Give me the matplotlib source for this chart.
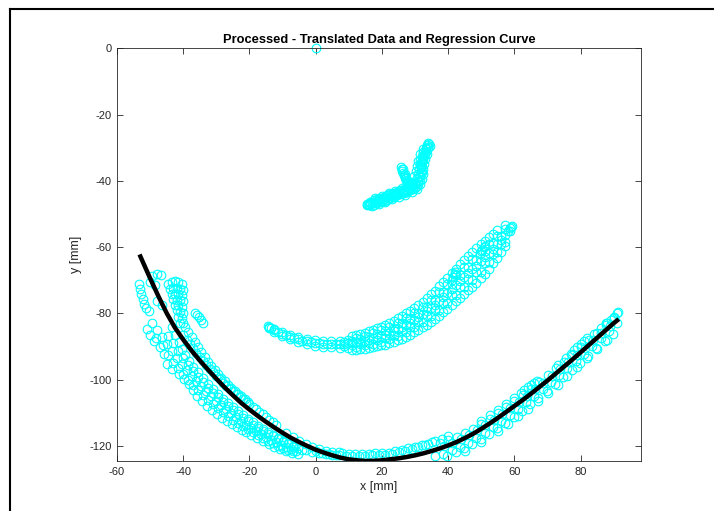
import matplotlib
matplotlib.use("Agg")
import matplotlib.pyplot as plt
from matplotlib.lines import Line2D

plt.rcParams['font.family'] = ['Liberation Sans', 'DejaVu Sans']
plt.rcParams['axes.unicode_minus'] = False

####### DATA #######
# single point at the origin
origin_x = [0.0]
origin_y = [0.0]

# upper small cluster
upper_x = [15.4, 16.5, 17.5, 18.5, 19.5, 20.5, 21.5, 22.5, 23.5, 24.5, 25.5, 26.5, 27.5, 28.5, 29.5,
           30.2, 30.6, 31.0, 31.2, 31.4, 31.6, 32.0, 32.5, 33.2, 34.1,
           17.0, 19.0, 21.0, 23.0, 25.0, 27.0, 29.0, 30.5, 31.5, 32.0, 32.3, 32.5, 32.6, 33.0, 33.5,
           18.0, 20.0, 22.0, 24.0, 26.0, 28.0, 29.5, 29.8, 30.2, 30.5, 30.8, 31.5, 32.5, 33.5,
           25.7, 26.0, 26.5, 27.0, 27.6, 28.3,
           16.0, 17.0, 18.0, 19.0, 20.0, 21.0, 22.0, 23.0, 24.0, 25.0, 26.0, 27.0, 28.0, 29.0, 30.0,
           30.0, 31.0, 31.2, 31.8, 31.9, 32.1, 32.3, 33.0, 33.8, 34.5, 33.8, 26.2, 26.8, 27.3, 28.0,
           17.5, 18.5, 19.5, 20.5, 21.5, 22.5, 23.5, 24.5, 25.5, 26.5, 27.5, 28.5, 29.5, 30.5, 31.0,
           30.8, 31.6, 31.5, 32.0, 31.7, 32.2, 31.9, 32.4, 32.6, 33.2, 33.4, 34.0,
           29.0, 28.5, 27.5, 26.5, 25.5, 24.5, 23.5, 22.5, 21.5, 20.5, 19.5, 18.5, 17.5, 16.5,
           15.6, 15.9, 16.3, 25.9, 26.3, 26.8, 27.3, 27.9, 28.8]
upper_y = [-47.1, -46.8, -46.4, -46.0, -45.7, -45.4, -45.0, -44.6, -44.2, -43.8, -43.4, -43.0, -42.6, -42.2, -41.8,
           -40.5, -39.2, -37.9, -36.5, -35.2, -33.8, -32.5, -31.2, -30.0, -28.8,
           -47.6, -47.0, -46.3, -45.6, -45.0, -44.3, -43.5, -42.5, -41.0, -39.5, -38.0, -36.5, -35.0, -33.5, -32.0,
           -45.2, -44.6, -43.8, -43.0, -42.2, -41.3, -40.2, -38.5, -37.0, -35.5, -34.0, -32.0, -30.5, -29.3,
           -35.9, -37.0, -38.2, -39.2, -40.2, -41.0,
           -47.4, -46.3, -46.8, -45.5, -46.0, -44.8, -45.3, -44.0, -44.5, -43.2, -43.8, -42.4, -43.0, -41.6, -42.0,
           -41.0, -40.0, -38.6, -37.2, -35.8, -34.4, -33.0, -31.5, -30.2, -29.5, -28.5, -36.5, -38.0, -39.7, -40.5,
           -47.2, -46.7, -46.4, -46.0, -45.7, -45.2, -44.9, -44.4, -44.1, -43.6, -43.3, -42.8, -42.4, -41.5, -41.0,
           -40.0, -39.8, -38.5, -37.3, -36.0, -35.6, -34.3, -33.8, -32.3, -31.3, -30.5, -29.8,
           -40.8, -41.6, -41.8, -42.5, -42.8, -43.3, -43.6, -44.1, -44.4, -44.9, -45.2, -45.6, -45.9, -46.3,
           -47.3, -46.9, -47.2, -36.4, -37.6, -38.6, -39.0, -40.0, -40.6]

# middle arc
middle_x = [-14, -11.5, -9, -6.5, -4, -1.5, 1, 3.5, 6, 8.5, 11, 13.5, 16, 18.5, 21, 23.5, 26, 28.5, 31, 33.5,
            36, 38.5, 41, 43.5, 46, 48.5, 51, 53.5, 56, 58.5,
            -12.75, -10.25, -7.75, -5.25, -2.75, -0.25, 2.25, 4.75, 7.25, 9.75, 12.25, 14.75, 17.25, 19.75,
            22.25, 24.75, 27.25, 29.75, 32.25, 34.75, 37.25, 39.75, 42.25, 44.75, 47.25, 49.75, 52.25, 54.75, 57.25,
            -12.75, -10.25, -7.75, -5.25, -2.75, -0.25, 2.25, 4.75, 7.25, 9.75, 12.25, 14.75, 17.25, 19.75,
            22.25, 24.75, 27.25, 29.75, 32.25, 34.75, 37.25, 39.75, 42.25, 44.75, 47.25, 49.75, 52.25, 54.75, 57.25,
            -12.75, -10.25, -7.75, -5.25, -2.75, -0.25, 2.25, 4.75, 7.25, 9.75, 12.25, 14.75, 17.25, 19.75,
            22.25, 24.75, 27.25, 29.75, 32.25, 34.75, 37.25, 39.75, 42.25, 44.75, 47.25, 49.75, 52.25, 54.75, 57.25,
            11, 13.5, 16, 18.5, 21, 23.5, 26, 28.5, 31, 33.5, 36, 38.5, 41, 43.5, 46, 48.5, 51, 53.5,
            11, 13.5, 16, 18.5, 21, 23.5, 26, 28.5, 31, 33.5, 36, 38.5, 41, 43.5, 46, 48.5, 51, 53.5, 56,
            12.25, 14.75, 17.25, 19.75, 22.25, 24.75, 27.25, 29.75, 32.25, 34.75, 37.25, 39.75, 42.25, 44.75,
            47.25, 49.75, 52.25, 54.75, 57.25,
            12.25, 14.75, 17.25, 19.75, 22.25, 24.75, 27.25, 29.75, 32.25, 34.75, 37.25, 39.75, 42.25, 44.75,
            47.25, 49.75, 52.25, 54.75, 57.25,
            8.5, 11, 13.5, 16, 18.5, 21, 23.5, 26, 28.5, 31, 33.5, 36, 38.5, 41, 43.5, 46, 48.5, 51, 53.5, 56,
            8.5, 11, 13.5, 16, 18.5, 21, 23.5, 26, 28.5, 31, 33.5, 36, 38.5, 41, 43.5, 46, 48.5, 51, 53.5, 56,
            -14.5, -14.0, -13.5, 41.0, 41.5, 42.0, 42.1, 49.5, 50.2, 50.8, 51.2, 58.0, 58.5, 59.0, 59.2]
middle_y = [-84.5, -85.7, -86.6, -87.5, -88.2, -88.7, -89.0, -89.2, -89.3, -89.2, -88.9, -88.5, -87.9, -87.2,
            -86.4, -85.4, -84.2, -82.8, -81.2, -79.4, -77.4, -75.1, -72.7, -70.2, -67.8, -65.6, -63.0, -60.4,
            -57.8, -55.0,
            -84.6, -85.6, -86.4, -87.2, -87.7, -88.0, -88.2, -88.3, -88.2, -87.9, -87.4, -86.8, -86.0, -85.1,
            -84.0, -82.8, -81.4, -79.8, -78.0, -75.9, -73.6, -71.1, -68.5, -65.9, -63.5, -61.2, -58.9, -56.6, -54.5,
            -85.6, -86.7, -87.7, -88.5, -89.2, -89.7, -90.0, -90.2, -90.3, -90.3, -90.0, -89.6, -89.1, -88.5,
            -87.8, -86.8, -85.6, -84.2, -82.6, -80.9, -78.9, -76.7, -74.4, -72.1, -69.9, -67.4, -64.6, -61.6, -58.3,
            -85.1, -86.15, -87.05, -87.85, -88.45, -88.85, -89.1, -89.25, -89.25, -89.05, -88.7, -88.2, -87.55,
            -86.8, -85.9, -84.8, -83.5, -82.0, -80.3, -78.4, -76.25, -73.9, -71.45, -69.0, -66.7, -64.3, -61.7,
            -59.1, -56.4,
            -86.8, -86.2, -85.4, -84.5, -83.4, -82.2, -80.8, -79.2, -77.4, -75.4, -73.1, -70.5, -67.9, -65.2,
            -62.6, -60.3, -58.0, -55.9,
            -91.0, -90.8, -90.4, -89.9, -89.4, -88.6, -87.6, -86.4, -85.0, -83.4, -81.7, -79.7, -77.5, -75.2,
            -73.0, -70.9, -68.0, -64.9, -61.6,
            -86.5, -85.8, -84.95, -83.95, -82.8, -81.5, -80.0, -78.3, -76.4, -74.25, -71.8, -69.2, -66.55, -63.9,
            -61.45, -59.15, -56.95, -54.95, -53.25,
            -90.9, -90.6, -90.15, -89.65, -89.0, -88.1, -87.0, -85.7, -84.2, -82.55, -80.7, -78.6, -76.35, -74.1,
            -71.95, -69.45, -66.45, -63.25, -59.55,
            -88.5, -88.2, -87.7, -87.0, -86.3, -85.35, -84.3, -83.0, -81.5, -79.9, -78.0, -75.9, -73.5, -71.0,
            -68.45, -66.0, -63.75, -61.25, -58.8, -56.5,
            -89.9, -89.6, -89.3, -88.8, -88.1, -87.45, -86.5, -85.4, -84.1, -82.5, -80.8, -78.9, -76.7, -74.4,
            -71.95, -69.6, -67.45, -64.75, -62.0, -59.1,
            -83.8, -84.0, -84.4, -70.0, -69.0, -68.0, -67.6, -62.0, -61.0, -60.0, -59.5, -55.0, -54.3, -53.8, -53.5]

# lower arc
lower_x = [-53.5, -53.1, -52.7, -52.2, -51.7, -51.1, -50.4,
           -49.4, -47.9, -46.7, -49.9, -48.6, -47.9, -46.5,
           -44.5, -43.5, -42.5, -41.5, -40.5, -44.0, -43.0, -42.0, -41.0, -40.0, -43.5, -42.5, -41.5, -40.5,
           -43.0, -42.0, -41.0, -40.0, -42.5, -41.5, -40.5, -42.0, -41.0, -40.0, -41.5, -40.5, -41.0, -40.0,
           -36.5, -35.8, -35.1, -34.5, -34.0,
           -39.5, -38.5, -37.5, -36.5, -35.5, -34.5, -33.5, -32.5, -31.5, -30.5, -29.5, -28.5, -27.5, -26.5,
           -25.5, -24.5, -23.5, -22.5, -21.5, -20.5,
           -40, -39, -38, -37, -36, -35, -34, -33, -32, -31, -30, -29, -28, -27, -26, -25, -24, -23, -22, -21,
           -20, -19, -18, -17, -16, -15, -14, -13, -12,
           -43.4, -42.4, -41.4, -40.4, -39.4, -38.3, -37.0, -35.5, -34.0, -32.5, -31.0, -29.5, -28.0, -26.5,
           -25.0, -23.5, -22.0, -20.5, -19.0, -17.5, -16.0, -14.5, -13.0, -11.5, -10.0, -8.5, -7.0, -5.5, -4.0,
           -44.5, -43.0, -41.5, -40.0, -38.5, -37.0, -35.5, -34.0, -32.5, -31.0, -29.5, -28.0, -26.5, -25.0,
           -23.5, -22.0, -20.5, -19.0, -17.5, -16.0, -14.5, -13.0, -11.5, -10.0, -8.5, -7.0,
           -49.5, -48.0, -46.5, -45.0, -43.5, -42.0, -40.5, -39.0, -37.5, -36.0, -34.5, -33.0, -31.5, -30.0,
           -28.5, -27.0, -25.5, -24.0, -22.5, -21.0, -19.5, -18.0, -16.5, -15.0, -13.5, -12.0, -10.5, -9.0,
           -7.5, -6.0,
           -48.2, -46.2, -44.6, -43.0, -41.5, -40.0, -38.5, -37.0, -35.5, -34.0, -32.5, -31.0, -29.5, -28.0,
           -26.5, -25.0, -23.5, -22.0, -20.5, -19.0, -17.5, -16.0, -14.5, -13.0, -11.5, -10.0, -8.5, -7.0,
           -50.9, -49.9, -48.9, -46.9, -45.9, -44.9, -43.4, -41.4, -39.9, -38.3, -37.0, -35.8, -34.3, -32.8,
           -31.3, -29.8, -28.3, -26.8, -25.2, -23.7, -22.2, -21.2, -19.5, -17.8, -16.0, -14.2, -12.5, -10.8,
           -9.0, -7.2, -5.4,
           -3.0, -1.0, 1.0, 3.0, 5.0, 7.0, 9.0, 11.0, 13.0, 15.0, 17.0, 19.0, 21.0, 23.0, 25.0, 27.0, 29.0,
           31.0, 33.0, 35.0,
           0, 2, 4, 6, 8, 10, 12, 14, 16, 18, 20, 22, 24, 26, 28, 30, 32, 34, 36, 38, 40,
           -9.0, -7.0, -5.0, -3.0, -1.0, 1.0, 3.0, 5.0, 7.0,
           37.5, 40.0, 42.5, 45.0, 47.5, 50.0, 52.5, 55.0, 57.5, 60.0, 62.5, 65.0, 67.5, 70.0, 72.5, 75.0,
           77.5, 80.0, 82.5, 85.0, 87.5, 90.0,
           38.75, 41.25, 43.75, 46.25, 48.75, 51.25, 53.75, 56.25, 58.75, 61.25, 63.75, 66.25, 68.75, 71.25,
           73.75, 76.25, 78.75, 81.25, 83.75, 86.25, 88.75,
           36.0, 38.5, 41.0, 43.5, 46.0, 48.5, 51.0, 53.5, 56.0, 58.5, 61.0, 63.5, 66.0, 68.5, 71.0, 73.5,
           76.0, 78.5, 81.0, 83.5, 86.0, 88.5, 91.0,
           39.75, 42.25, 44.75, 47.25, 49.75, 52.25, 54.75, 57.25, 59.75, 62.25, 64.75, 67.25, 69.75, 72.25,
           74.75, 77.25, 79.75, 82.25, 84.75, 87.25, 89.75,
           45.0, 50.0, 55.0, 58.0, 61.0, 64.0, 67.0, 70.0, 73.0, 76.0, 79.0, 82.0, 85.0, 88.0,
           50.0, 52.5, 55.0, 57.5, 60.0, 62.0, 73.0, 75.5, 77.0, 84.0, 86.0, 87.5,
           63.0, 64.0, 65.0, 66.0, 66.8, 78.0, 79.0, 80.0, 81.0, 81.9, 88.0, 89.0, 90.0, 91.0, 91.4]
lower_y = [-71.0, -72.5, -74.0, -75.5, -77.0, -78.3, -79.3,
           -68.6, -68.1, -68.3, -70.6, -71.5, -76.1, -77.5,
           -71.0, -70.5, -70.3, -70.5, -71.0, -72.5, -72.3, -72.3, -72.5, -73.0, -74.0, -74.0, -74.2, -74.5,
           -75.5, -75.8, -76.0, -76.3, -77.3, -77.5, -78.0, -79.0, -79.5, -80.0, -81.0, -81.5, -82.8, -83.0,
           -80.0, -80.4, -81.2, -82.0, -82.9,
           -84.0, -85.5, -87.0, -88.5, -90.0, -91.5, -93.0, -94.5, -95.8, -97.0, -98.2, -99.4, -100.5, -101.5,
           -102.4, -103.3, -104.2, -105.0, -105.8, -106.6,
           -86.5, -88.0, -89.3, -90.5, -91.8, -93.0, -94.3, -95.5, -96.7, -97.8, -98.9, -99.9, -100.9, -101.8,
           -102.7, -103.5, -104.3, -105.1, -105.9, -106.7, -107.4, -108.1, -108.8, -109.6, -110.4, -111.2,
           -112.0, -112.8, -113.6,
           -84.2, -86.5, -88.7, -90.6, -92.4, -94.2, -96.0, -97.8, -99.6, -101.2, -102.8, -104.3, -105.7, -107.0,
           -108.3, -109.5, -110.6, -111.7, -112.8, -113.8, -114.8, -115.8, -116.7, -117.6, -118.4, -119.2,
           -119.9, -120.5, -121.1,
           -86.8, -89.0, -91.2, -93.4, -95.4, -97.3, -99.1, -100.8, -102.4, -103.9, -105.3, -106.6, -107.9,
           -109.1, -110.3, -111.4, -112.5, -113.5, -114.5, -115.4, -116.3, -117.1, -117.9, -118.7, -119.5, -120.2,
           -83.0, -85.0, -87.2, -89.3, -91.3, -93.3, -95.2, -97.0, -98.8, -100.4, -102.0, -103.5, -104.9, -106.3,
           -107.6, -108.9, -110.1, -111.3, -112.4, -113.5, -114.5, -115.5, -116.4, -117.3, -118.1, -118.9,
           -119.6, -120.3, -120.9, -121.5,
           -87.5, -89.5, -92.5, -94.8, -96.6, -98.3, -100.0, -101.6, -103.2, -104.7, -106.1, -107.4, -108.6,
           -109.8, -110.9, -112.0, -113.0, -114.0, -115.0, -115.9, -116.8, -117.7, -118.5, -119.2, -119.9,
           -120.6, -121.1, -121.6,
           -84.7, -86.5, -88.2, -90.2, -92.2, -95.3, -96.8, -98.3, -99.8, -101.3, -103.0, -104.8, -106.4, -107.9,
           -109.2, -110.4, -111.4, -112.4, -113.4, -114.4, -115.3, -115.9, -116.8, -117.7, -118.6, -119.5,
           -120.3, -121.0, -121.6, -122.1, -122.5,
           -121.3, -121.8, -122.2, -122.5, -122.7, -122.8, -122.9, -123.0, -122.9, -122.9, -122.8, -122.7, -122.6,
           -122.3, -121.9, -121.4, -120.9, -120.3, -119.6, -118.9,
           -121.5, -122.1, -122.4, -122.7, -122.2, -122.3, -122.4, -122.3, -122.4, -122.2, -122.1, -122.0, -121.5,
           -121.2, -120.7, -120.4, -119.8, -119.3, -118.6, -117.8, -117.0,
           -116.0, -117.3, -118.4, -119.4, -120.2, -120.9, -121.4, -121.7, -121.9,
           -119.2, -118.3, -117.3, -116.1, -114.8, -113.3, -111.7, -110.0, -108.2, -106.4, -104.6, -102.7,
           -100.7, -98.7, -96.6, -94.5, -92.4, -90.2, -88.0, -85.8, -83.6, -81.4,
           -119.9, -119.0, -117.9, -116.6, -115.2, -113.7, -112.0, -110.3, -108.5, -106.7, -104.8, -102.9,
           -100.9, -98.8, -96.7, -94.6, -92.5, -90.3, -88.1, -85.9, -83.7,
           -123.0, -122.3, -121.3, -120.2, -119.0, -117.6, -116.0, -114.3, -112.5, -110.6, -108.7, -106.8,
           -104.8, -102.8, -100.7, -98.6, -96.5, -94.3, -92.1, -89.8, -87.5, -85.2, -82.8,
           -122.9, -121.9, -120.7, -119.45, -117.95, -116.35, -114.65, -112.9, -111.1, -109.3, -107.4, -105.4,
           -103.4, -101.3, -99.2, -97.1, -94.9, -92.7, -90.5, -88.3, -86.1,
           -121.5, -118.8, -115.5, -113.3, -111.0, -108.7, -106.3, -104.0, -101.5, -99.0, -96.3, -93.5, -90.8, -88.0,
           -112.3, -110.7, -109.0, -107.2, -105.4, -103.9, -95.6, -93.5, -92.2, -86.2, -84.5, -83.0,
           -103.0, -102.3, -101.6, -101.0, -100.3, -91.0, -90.2, -89.3, -88.4, -87.4, -83.0, -82.0, -81.0, -80.0, -79.6]

# regression curve
curve_x = [-53.2, -50, -47.5, -45, -42.5, -40, -37.5, -35, -32.5, -30, -27.5, -25, -22.5, -20, -17.5,
           -15, -12.5, -10, -7.5, -5, -2.5, 0, 2.5, 5, 7.5, 10, 12.5, 15, 17.5, 20, 22.5, 25, 27.5, 30,
           32.5, 35, 37.5, 40, 42.5, 45, 47.5, 50, 52.5, 55, 57.5, 60, 62.5, 65, 67.5, 70, 72.5, 75, 77.5,
           80, 82.5, 85, 87.5, 90, 91.5]
curve_y = [-62.2, -69.4, -74.8, -79.9, -84.3, -87.9, -91.2, -94.2, -97.0, -99.7, -102.3, -104.7, -107.0,
           -109.0, -110.9, -112.7, -114.4, -116.0, -117.5, -118.8, -120.0, -121.1, -122.0, -122.8, -123.5,
           -124.0, -124.3, -124.5, -124.45, -124.3, -124.0, -123.7, -123.3, -122.8, -122.2, -121.5, -120.7,
           -119.8, -118.8, -117.6, -116.3, -114.8, -113.2, -111.5, -109.7, -107.9, -106.1, -104.2, -102.2,
           -100.2, -98.1, -96.0, -93.9, -91.7, -89.5, -87.3, -85.1, -82.9, -81.7]

xticks = [-60, -40, -20, 0, 20, 40, 60, 80]
yticks = [-120, -100, -80, -60, -40, -20, 0]

####### PLOTTING #######
fig = plt.figure(figsize=(7.14, 5.11), dpi=100)
ax = fig.add_axes([117 / 714, 1 - 461.3 / 511, (641 - 117) / 714, (461.3 - 48.3) / 511])

mk = dict(linestyle='none', marker='o', mfc='none', mec=(0, 1, 1), ms=6.2, mew=0.8, clip_on=False)
for xs, ys in [(origin_x, origin_y), (upper_x, upper_y), (middle_x, middle_y), (lower_x, lower_y)]:
    ax.plot(xs, ys, **mk)

ax.plot(curve_x, curve_y, color='k', linewidth=3.2, solid_capstyle='butt', solid_joinstyle='round')

ax.set_xlim(-60, 98.2)
ax.set_ylim(-124.6, 0)
ax.set_xticks(xticks)
ax.set_yticks(yticks)

axc = '#262626'
for s in ax.spines.values():
    s.set_color(axc)
    s.set_linewidth(0.6)
ax.tick_params(direction='in', length=4, width=0.6, color=axc, labelcolor=axc,
               labelsize=8, top=True, right=True, pad=4)
ax.set_title('Processed - Translated Data and Regression Curve', fontsize=9.3,
             fontweight='bold', color='k', pad=4)
ax.set_xlabel('x [mm]', fontsize=9, color=axc, labelpad=3)
ax.set_ylabel('y [mm]', fontsize=9, color=axc, labelpad=5)

# figure frame (left and top edges)
fig.add_artist(Line2D([9.5 / 714, 9.5 / 714], [0, 1 - 9.5 / 511], transform=fig.transFigure,
                      color='k', linewidth=1.5))
fig.add_artist(Line2D([9.5 / 714, 1], [1 - 9.5 / 511, 1 - 9.5 / 511], transform=fig.transFigure,
                      color='k', linewidth=1.5))

fig.savefig('out.png', dpi=100)
